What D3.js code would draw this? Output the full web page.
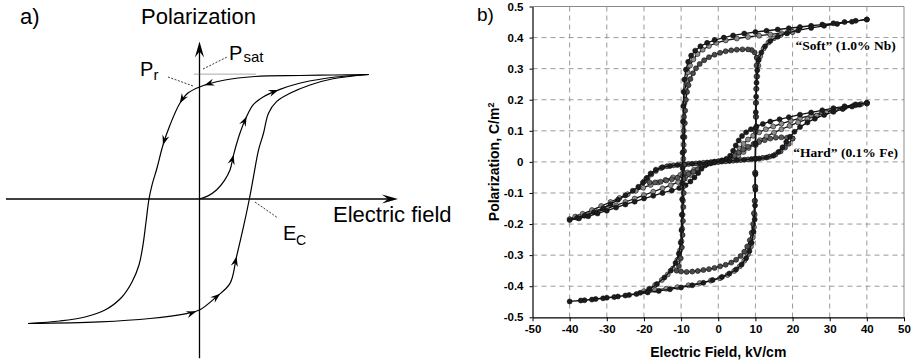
<!DOCTYPE html>
<html><head><meta charset="utf-8">
<script src="https://cdn.jsdelivr.net/npm/d3@7"></script>
<style>
html,body{margin:0;padding:0;background:#fff;}
svg{display:block;}
</style></head><body>
<svg id="fig" width="913" height="362"></svg>
<script>
// ---------- a) schematic loop: field in units of Ec, polarization in units of Psat ----------
const loopDown = [[3.39,1.0],[2.67,0.996],[2.01,0.992],[1.11,0.984],[0.51,0.956],[0,0.90],[-0.23,0.851],[-0.39,0.771],[-0.59,0.594],[-0.73,0.434],[-0.85,0.249],[-0.95,0.112],[-1.01,0],[-1.07,-0.185],[-1.13,-0.369],[-1.21,-0.53],[-1.35,-0.667],[-1.55,-0.787],[-1.89,-0.892],[-2.29,-0.948],[-2.79,-0.98],[-3.43,-1.0]];
const loopUp = [[-3.43,-1.0],[-2.0,-0.987],[-0.99,-0.96],[-0.26,-0.92],[0,-0.892],[0.34,-0.785],[0.61,-0.678],[0.74,-0.464],[0.88,-0.222],[1.0,0.006],[1.08,0.18],[1.18,0.393],[1.28,0.528],[1.38,0.689],[1.54,0.782],[1.81,0.849],[2.21,0.916],[2.67,0.966],[3.39,1.0]];
const virginCurve = [[0,0],[0.17,0.025],[0.34,0.072],[0.5,0.15],[0.61,0.233],[0.68,0.353],[0.81,0.53],[0.94,0.661],[1.08,0.76],[1.28,0.822],[1.61,0.881],[2.0,0.93],[2.5,0.968],[3.0,0.99],[3.39,1.0]];
// field values where the direction arrows sit on each branch
const arrowsDown = [0.1, -0.39, -0.73];
const arrowsUp = [-0.07, 0.41, 0.74];
const arrowsVirgin = [0.68, 0.94, 1.57];
const axisFieldExtent = [-3.87, 3.97];
const axisPolExtent = [-1.28, 1.265];

// ---------- b) measured loops: E in kV/cm, P in C/m^2 ----------
const xTicksB = [-50,-40,-30,-20,-10,0,10,20,30,40,50];
const yTicksB = [0.5,0.4,0.3,0.2,0.1,0,-0.1,-0.2,-0.3,-0.4,-0.5];

const softOuterDown = [[40,.458],[37,.454],[34,.450],[31,.446],[28,.442],[25,.438],[22,.434],[19,.430],[16,.426],[13,.422],[10,.418],[7,.413],[4,.407],[1.5,.400],[-1,.392],[-3,.383],[-4.8,.372],[-6.2,.358],[-7.3,.342],[-8.1,.322],[-8.7,.297],[-9.1,.265],[-9.3,.225],[-9.4,.180],[-9.5,.130],[-9.5,.080],[-9.6,.030],[-9.6,-.020],[-9.7,-.070],[-9.7,-.120],[-9.8,-.170],[-9.9,-.220],[-10.1,-.260],[-10.6,-.295],[-11.5,-.325],[-12.8,-.350],[-14.5,-.372],[-16.5,-.393],[-18.5,-.410],[-21,-.421],[-24,-.428],[-27,-.433],[-30,-.437],[-33,-.441],[-36,-.445],[-40,-.449]];
const softOuterUp = [[-40,-.449],[-37,-.446],[-34,-.443],[-31,-.439],[-28,-.435],[-25,-.430],[-22,-.425],[-19,-.420],[-16,-.415],[-13,-.410],[-10,-.404],[-7,-.397],[-4,-.389],[-1.5,-.380],[1,-.370],[3,-.359],[4.8,-.346],[6.3,-.330],[7.5,-.310],[8.4,-.287],[9,-.260],[9.5,-.225],[9.8,-.185],[9.9,-.140],[10,-.090],[10,-.040],[10,.010],[10,.060],[10.1,.110],[10.1,.160],[10.2,.210],[10.3,.255],[10.5,.295],[10.9,.328],[11.6,.352],[12.6,.372],[14,.389],[16,.403],[18.5,.414],[21.5,.423],[25,.431],[28.5,.438],[32,.444],[36,.451],[40,.458]];
const softMidDown = [[20,.418],[17,.414],[14,.410],[11,.406],[8,.402],[5,.397],[2,.391],[-0.5,.383],[-2.5,.373],[-4.2,.361],[-5.6,.347],[-6.7,.330],[-7.6,.310],[-8.2,.288],[-8.6,.262],[-8.9,.230],[-9.1,.190],[-9.2,.145],[-9.3,.100],[-9.3,.055],[-9.4,.010],[-9.4,-.035],[-9.5,-.080],[-9.5,-.125],[-9.6,-.170],[-9.7,-.215],[-9.9,-.255],[-10.3,-.285],[-11,-.315],[-12.2,-.343],[-13.6,-.362],[-15.2,-.380],[-17,-.396],[-18.6,-.408],[-20,-.416]];
const softMidUp = [[-20,-.416],[-17,-.412],[-14,-.408],[-11,-.403],[-8,-.397],[-5,-.390],[-2,-.382],[0.5,-.374],[2.5,-.364],[4.3,-.351],[5.8,-.336],[7,-.318],[8,-.297],[8.8,-.272],[9.3,-.243],[9.6,-.210],[9.8,-.170],[9.9,-.125],[10,-.080],[10,-.035],[10,.010],[10.1,.055],[10.1,.100],[10.2,.145],[10.2,.190],[10.3,.235],[10.5,.275],[10.8,.310],[11.3,.340],[12.2,.365],[13.5,.384],[15,.398],[16.8,.408],[18.5,.414],[20,.418]];
const softInnerDown = [[10.4,.335],[9.8,.352],[9,.360],[8,.362],[6.5,.362],[5,.361],[3.5,.359],[2,.356],[0.5,.351],[-1,.345],[-2.5,.337],[-3.8,.327],[-5,.315],[-6,.301],[-6.8,.285],[-7.5,.267],[-8,.247],[-8.4,.225],[-8.7,.200],[-8.9,.165],[-9,.125],[-9.1,.080],[-9.2,.035],[-9.2,-.010],[-9.3,-.055],[-9.3,-.100],[-9.4,-.145],[-9.5,-.190],[-9.6,-.235],[-9.8,-.275],[-10.1,-.310],[-10.6,-.335],[-11.2,-.350]];
const softInnerUp = [[-11.2,-.350],[-10,-.353],[-8.5,-.354],[-7,-.353],[-5.5,-.351],[-4,-.348],[-2.5,-.345],[-1,-.341],[0.5,-.336],[2,-.331],[3.5,-.324],[4.8,-.315],[6,-.303],[7,-.289],[7.8,-.272],[8.5,-.252],[9,-.228],[9.4,-.200],[9.6,-.165],[9.8,-.125],[9.9,-.080],[9.9,-.035],[10,.010],[10,.055],[10,.100],[10.1,.145],[10.1,.190],[10.2,.235],[10.3,.275],[10.3,.310],[10.4,.335]];

const hardOuterDown = [[40,.190],[37,.185],[34,.179],[31,.173],[28,.166],[25,.159],[22,.152],[19,.144],[16.5,.137],[14,.130],[12,.122],[10.3,.114],[8.8,.105],[7.5,.095],[6.4,.083],[5.5,.069],[4.7,.053],[4,.036],[3.2,.020],[2.2,.010],[1,.005],[-1,.001],[-3,-.002],[-5,-.004],[-7,-.006],[-9,-.008],[-11,-.010],[-13,-.013],[-15,-.017],[-16.8,-.025],[-18.2,-.037],[-19.3,-.052],[-20.3,-.067],[-21.5,-.080],[-23,-.093],[-25,-.108],[-27,-.122],[-29,-.136],[-31,-.149],[-33.5,-.162],[-36,-.173],[-38,-.180],[-40,-.187]];
const hardOuterUp = [[-40,-.187],[-37.5,-.182],[-35,-.175],[-32.5,-.166],[-30,-.157],[-27.5,-.147],[-25,-.137],[-22.5,-.128],[-20,-.118],[-17.5,-.109],[-15,-.100],[-12.5,-.092],[-10.5,-.084],[-8.8,-.075],[-7.5,-.063],[-6.4,-.050],[-5.4,-.036],[-4.5,-.022],[-3.5,-.011],[-2.2,-.005],[-1,-.002],[1,.001],[3,.003],[5,.005],[7,.007],[9,.009],[11,.011],[13,.014],[14.8,.020],[16.2,.032],[17.3,.047],[18.3,.064],[19.3,.081],[20.5,.097],[22,.112],[24,.127],[26,.139],[28.5,.151],[31,.161],[33.5,.170],[36,.178],[38,.184],[40,.190]];
const hardGrayDown = [[40,.188],[37,.182],[34,.175],[31,.167],[28,.159],[25,.150],[22,.141],[19.5,.132],[17,.123],[14.8,.114],[12.8,.105],[11,.095],[9.4,.084],[8,.072],[6.8,.058],[5.7,.043],[4.7,.028],[3.6,.015],[2.3,.007],[0.5,.002],[-1.5,-.002],[-3.2,-.008],[-4.8,-.016],[-6.5,-.025],[-8.3,-.034],[-10.2,-.042],[-12.2,-.050],[-14.2,-.058],[-16.2,-.066],[-18.2,-.074],[-20.2,-.083],[-22.2,-.093],[-24.4,-.104],[-26.6,-.116],[-29,-.129],[-31.5,-.142],[-34,-.155],[-36.5,-.167],[-38.5,-.176],[-40,-.184]];
const hardGrayUp = [[-40,-.184],[-37.5,-.177],[-35,-.169],[-32.5,-.160],[-30,-.150],[-27.5,-.140],[-25,-.129],[-22.5,-.118],[-20,-.107],[-17.5,-.096],[-15,-.085],[-12.8,-.075],[-10.8,-.065],[-9,-.054],[-7.4,-.042],[-6,-.029],[-4.8,-.016],[-3.6,-.007],[-2,-.002],[0,.001],[2,.004],[3.8,.010],[5.4,.020],[6.8,.032],[8.2,.045],[9.6,.058],[11.2,.070],[13,.082],[15,.094],[17,.105],[19.2,.116],[21.5,.127],[24,.138],[26.5,.149],[29,.159],[31.5,.168],[34,.176],[36.5,.182],[38.5,.186],[40,.188]];
const hardLobeDown = [[20,.075],[18.5,.078],[17,.079],[15.5,.078],[14,.075],[12.5,.070],[11,.064],[9.5,.057],[8,.049],[6.7,.040],[5.5,.030],[4.4,.020],[3.2,.011],[1.8,.005],[0,.002],[-2,-.001],[-4,-.003],[-6,-.005],[-8,-.007],[-10,-.009],[-12,-.011],[-13.8,-.014],[-15.4,-.020],[-16.8,-.029],[-18,-.040],[-19,-.051],[-20,-.063]];
const hardLobeUp = [[-20,-.063],[-18.5,-.066],[-17,-.066],[-15.5,-.064],[-14,-.060],[-12.5,-.056],[-11,-.051],[-9.5,-.045],[-8,-.039],[-6.7,-.032],[-5.5,-.024],[-4.4,-.016],[-3.2,-.008],[-1.8,-.003],[0,.000],[2,.002],[4,.004],[6,.006],[8,.008],[10,.010],[12,.013],[13.8,.017],[15.4,.024],[16.8,.034],[18,.046],[19,.058],[20,.075]];

const sampleLabels = ["\u201cSoft\u201d (1.0% Nb)", "\u201cHard\u201d (0.1% Fe)"];
const sampleLabelAt = [[20.8, 0.36], [20.2, 0.015]];

// loops drawn back to front: [down branch, up branch, marker fill]
const loopsB = [
  [hardGrayDown, hardGrayUp, "#8e8e8e"],
  [hardLobeDown, hardLobeUp, "#5a5a5a"],
  [hardOuterDown, hardOuterUp, "#1c1c1c"],
  [softMidDown, softMidUp, "#8e8e8e"],
  [softInnerDown, softInnerUp, "#4a4a4a"],
  [softOuterDown, softOuterUp, "#1c1c1c"]
];

const svg = d3.select("#fig");
const SANS = "'Liberation Sans', Arial, sans-serif";

// ================= panel a =================
const xA = d3.scaleLinear().domain([-1, 1]).range([149.5, 249.5]);
const yA = d3.scaleLinear().domain([-1, 1]).range([323.5, 74.5]);
const gA = svg.append("g");

function arrowHead(g, x, y, angle, len, hw, notch) {
  g.append("path")
    .attr("d", `M0,0L${-len},${-hw}L${-notch},0L${-len},${hw}Z`)
    .attr("transform", `translate(${x},${y}) rotate(${angle})`)
    .attr("fill", "#000");
}

// axes with arrow tips
gA.append("line").attr("x1", xA(axisFieldExtent[0])).attr("x2", xA(axisFieldExtent[1]) - 6)
  .attr("y1", yA(0)).attr("y2", yA(0)).attr("stroke", "#000").attr("stroke-width", 1.3);
arrowHead(gA, xA(axisFieldExtent[1]), yA(0), 0, 16, 4.6, 10);
gA.append("line").attr("x1", xA(0)).attr("x2", xA(0))
  .attr("y1", yA(axisPolExtent[0])).attr("y2", yA(axisPolExtent[1]) + 6).attr("stroke", "#000").attr("stroke-width", 1.3);
arrowHead(gA, xA(0), yA(axisPolExtent[1]), -90, 16, 4.6, 10);

// saturation level marker and leaders
gA.append("line").attr("x1", xA(-0.1)).attr("x2", xA(1.12)).attr("y1", yA(1.003)).attr("y2", yA(1.003))
  .attr("stroke", "#555").attr("stroke-width", 1).attr("stroke-dasharray", "1,1");
const leaders = [[[0.07,1.044],[0.55,1.14]], [[-0.63,0.98],[-0.13,0.908]], [[1.11,-0.024],[1.57,-0.153]]];
leaders.forEach(([a, b]) => {
  gA.append("line").attr("x1", xA(a[0])).attr("y1", yA(a[1])).attr("x2", xA(b[0])).attr("y2", yA(b[1]))
    .attr("stroke", "#222").attr("stroke-width", 0.9).attr("stroke-dasharray", "2,1.5");
});

const lineA = d3.line().x(d => xA(d[0])).y(d => yA(d[1])).curve(d3.curveCatmullRom.alpha(0.5));
function branch(data, arrows) {
  const p = gA.append("path").attr("d", lineA(data)).attr("fill", "none")
    .attr("stroke", "#000").attr("stroke-width", 1.2);
  const node = p.node();
  const total = node.getTotalLength();
  arrows.forEach(e => {
    const tx = xA(e);
    let prev = node.getPointAtLength(0), found = 0;
    for (let L = 0.5; L <= total; L += 0.5) {
      const q = node.getPointAtLength(L);
      if ((prev.x - tx) * (q.x - tx) <= 0) { found = L; break; }
      prev = q;
    }
    const tip = node.getPointAtLength(found);
    const a = node.getPointAtLength(Math.max(0, found - 2));
    const b = node.getPointAtLength(Math.min(total, found + 2));
    const ang = Math.atan2(b.y - a.y, b.x - a.x) * 180 / Math.PI;
    arrowHead(gA, tip.x, tip.y, ang, 10, 3.6, 6.5);
  });
}
branch(loopDown, arrowsDown);
branch(loopUp, arrowsUp);
branch(virginCurve, arrowsVirgin);

const txt = (g, x, y, s, size, extra) => {
  const t = g.append("text").attr("x", x).attr("y", y).text(s)
    .attr("font-family", SANS).attr("font-size", size).attr("fill", "#000");
  if (extra) extra(t);
  return t;
};
txt(gA, 20, 24, "a)", 22);
txt(gA, 141, 24, "Polarization", 22);
txt(gA, 333, 222, "Electric field", 22);
txt(gA, 283, 240, "E", 20);
txt(gA, 296, 245, "C", 14);
txt(gA, 229, 60, "P", 20);
txt(gA, 243.5, 62, "sat", 15);
txt(gA, 140, 76, "P", 20);
txt(gA, 153.5, 80, "r", 15);

// ================= panel b =================
const xB = d3.scaleLinear().domain([-50, 50]).range([532.5, 904]);
const yB = d3.scaleLinear().domain([-0.5, 0.5]).range([317.3, 6.5]);
const gB = svg.append("g");

// dashed grid
gB.append("g").selectAll("line").data(xTicksB.slice(1, -1)).join("line")
  .attr("x1", d => xB(d)).attr("x2", d => xB(d)).attr("y1", yB(0.5)).attr("y2", yB(-0.5))
  .attr("stroke", "#999").attr("stroke-width", 1).attr("stroke-dasharray", "5,4");
gB.append("g").selectAll("line").data(yTicksB.slice(1, -1)).join("line")
  .attr("y1", d => yB(d)).attr("y2", d => yB(d)).attr("x1", xB(-50)).attr("x2", xB(50))
  .attr("stroke", "#999").attr("stroke-width", 1).attr("stroke-dasharray", "5,4");
// frame top / right
gB.append("path").attr("d", `M${xB(-50)},${yB(0.5)}H${xB(50)}V${yB(-0.5)}`)
  .attr("fill", "none").attr("stroke", "#8a8a8a").attr("stroke-width", 1);

// axes
const axX = gB.append("g").attr("transform", `translate(0,${yB(-0.5)})`)
  .call(d3.axisBottom(xB).tickValues(xTicksB).tickSize(4).tickSizeOuter(0).tickPadding(4).tickFormat(d => String(d)));
const axY = gB.append("g").attr("transform", `translate(${xB(-50)},0)`)
  .call(d3.axisLeft(yB).tickValues(yTicksB).tickSize(3).tickSizeOuter(0).tickPadding(6)
    .tickFormat(d => d === 0 ? "0" : d.toFixed(1)));
[axX, axY].forEach(ax => {
  ax.select(".domain").attr("stroke", "#000").attr("stroke-width", 1.2);
  ax.selectAll(".tick line").attr("stroke", "#000").attr("stroke-width", 1);
  ax.selectAll(".tick text").attr("font-family", SANS).attr("font-weight", "bold")
    .attr("font-size", 11.5).attr("fill", "#000");
});

// loops
const lineB = d3.line().x(d => xB(d[0])).y(d => yB(d[1]));
loopsB.forEach(([down, up, fill]) => {
  const pts = down.concat(up.slice(1));
  gB.append("path").attr("d", lineB(pts)).attr("fill", "none")
    .attr("stroke", "#111").attr("stroke-width", 1.3);
  gB.append("g").selectAll("circle").data(pts).join("circle")
    .attr("cx", d => xB(d[0])).attr("cy", d => yB(d[1])).attr("r", 2.5)
    .attr("fill", fill).attr("stroke", "#111").attr("stroke-width", 0.6);
});

// sample labels on white backing
sampleLabels.forEach((s, i) => {
  const t = gB.append("text").attr("x", xB(sampleLabelAt[i][0])).attr("y", yB(sampleLabelAt[i][1]))
    .text(s).attr("font-family", "'Liberation Serif', 'Times New Roman', serif")
    .attr("font-weight", "bold").attr("font-size", 13.5).attr("fill", "#000");
  const bb = t.node().getBBox();
  gB.insert("rect", () => t.node()).attr("x", bb.x - 1).attr("y", bb.y).attr("width", bb.width + 2)
    .attr("height", bb.height).attr("fill", "#fff");
});

// axis titles and panel tag
txt(gB, xB(0), 357, "Electric Field, kV/cm", 14, t => t.attr("font-weight", "bold").attr("text-anchor", "middle"));
const yt = gB.append("text").attr("transform", `translate(499,${yB(0)}) rotate(-90)`)
  .attr("text-anchor", "middle").attr("font-family", SANS).attr("font-weight", "bold")
  .attr("font-size", 14).attr("fill", "#000");
yt.append("tspan").text("Polarization, C/m");
yt.append("tspan").text("2").attr("font-size", 9).attr("dy", -5);
txt(gB, 477, 21, "b)", 19);
</script>
</body></html>
